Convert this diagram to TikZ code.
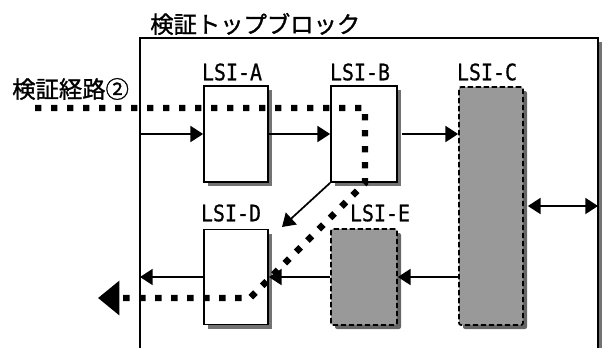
\documentclass[tikz,border=0pt]{standalone}
\usepackage{fontspec}
\usepackage{graphicx}
\newfontfamily\jp[FakeBold=1.2]{Noto Sans CJK JP}
\newfontfamily\lsi[FakeBold=0.8]{DejaVu Sans Mono}
\usetikzlibrary{arrows.meta,shadows}
\begin{document}
\begin{tikzpicture}[x=0.75pt,y=-0.75pt,
  blk/.style={draw=black, line width=1.3pt, fill=white, minimum width=48pt, inner sep=0pt,
    drop shadow={shadow xshift=3pt, shadow yshift=-3pt, fill=black!55, opacity=1}},
  dblk/.style={draw=black, line width=1.3pt, fill=black!40, dash pattern=on 4pt off 2pt,
    rounded corners=1.5pt, inner sep=0pt, minimum width=48pt,
    drop shadow={shadow xshift=3pt, shadow yshift=-3pt, fill=black!60, opacity=1}},
  conn/.style={line width=1.3pt, -{Triangle[length=9.5pt,width=12pt]}},
  lbl/.style={font=\lsi\fontsize{17}{17}\selectfont, inner sep=0pt},
  jlbl/.style={font=\jp\fontsize{17.5}{17.5}\selectfont, inner sep=0pt},
  route/.style={line width=4.8pt, dash pattern=on 4.8pt off 7.2pt,
    -{Triangle[length=16pt,width=25pt]}}
]
\useasboundingbox (0,0) rectangle (602,347);
\clip (0,0) rectangle (602,347);
% frame
\coordinate (ftl) at (140,38);
\coordinate (ftr) at (598,38);
\coordinate (fbl) at (140,360);
\coordinate (fbr) at (598,360);
\fill[black!55] (599,42) rectangle (603,360);
\draw[line width=1.3pt] (fbl) -- (ftl) -- (ftr) -- (fbr);
% title and route label
\node[jlbl, anchor=west] (T) at (150,24) {検証トップブロック};
\node[jlbl, anchor=west] (R) at (12,89) {検証経路②};
% boxes
\node[blk, minimum height=72pt] (A) at (236,134) {};
\node[blk, minimum height=72pt, minimum width=49.5pt] (B) at (364,134) {};
\node[dblk, minimum height=178.5pt] (C) at (491,206) {};
\node[blk, minimum height=71.25pt] (D) at (236,277) {};
\node[dblk, minimum height=72pt, minimum width=49.5pt] (E) at (364,277) {};
% labels
\node[lbl] (LA) at (232,72) {\scalebox{0.88}[1]{LSI-A}};
\node[lbl] (LB) at (360,72) {\scalebox{0.88}[1]{LSI-B}};
\node[lbl] (LC) at (487,72) {\scalebox{0.88}[1]{LSI-C}};
\node[lbl] (LD) at (231,213) {\scalebox{0.88}[1]{LSI-D}};
\node[lbl] (LE) at (380,213) {\scalebox{0.88}[1]{LSI-E}};
% connectors
\draw[conn] (A.west -| ftl) -- (A.west);
\draw[conn] (A.east) -- (B.west);
\draw[conn] ([xshift=3pt]B.east) -- (B.east -| C.west);
\draw[line width=1.3pt, {Triangle[length=9.5pt,width=12pt]}-{Triangle[length=9.5pt,width=12pt]}]
  ([xshift=3pt]C.east) -- (C.east -| ftr);
\draw[conn] (E.east -| C.west) -- (E.east);
\draw[conn] (E.west) -- (D.east);
\draw[conn] (D.west) -- (D.west -| ftl);
\coordinate (bd) at (282,227);
\draw[conn] (B.south west) -- (bd);
% verification route 2
\coordinate (r0) at (35,108);
\coordinate (r1) at (365,108);
\coordinate (r2) at (365,183);
\coordinate (r3) at (250,298);
\coordinate (r4) at (98,298);
\draw[route] (r0) -- (r1) -- (r2) -- (r3) -- (r4);
\end{tikzpicture}
\end{document}
